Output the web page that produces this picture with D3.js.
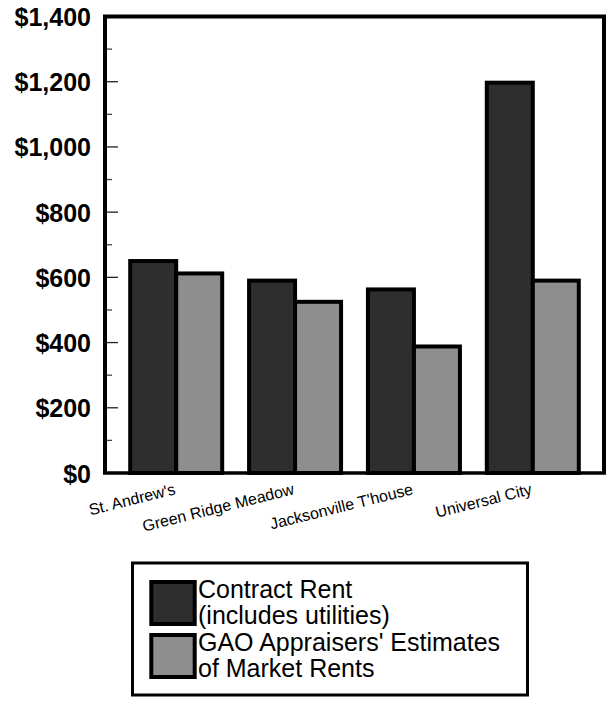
<!DOCTYPE html>
<html>
<head>
<meta charset="utf-8">
<script src="https://cdn.jsdelivr.net/npm/d3@7"></script>
<style>
  body { margin: 0; background: #fff; }
  svg { display: block; font-family: "Liberation Sans", Arial, sans-serif; }
</style>
</head>
<body>
<svg id="chart" width="607" height="703"></svg>
<script>
const categories = ["St. Andrew's", "Green Ridge Meadow", "Jacksonville T'house", "Universal City"];
const contractRent = [650, 590, 563, 1197];
const marketRent = [612, 525, 388, 590];
const seriesNames = ["Contract Rent\n(includes utilities)", "GAO Appraisers' Estimates\nof Market Rents"];
const yTickValues = [0, 200, 400, 600, 800, 1000, 1200, 1400];
const yMinorTicks = [100, 300, 500, 700, 900, 1100, 1300];
const colors = ["#2e2e2e", "#8e8e8e"];

const svg = d3.select("#chart");
const L = 105, R = 604, T = 16.5, B = 473;

const y = d3.scaleLinear().domain([0, 1400]).range([B, T]);
const x0 = d3.scaleBand().domain(categories).range([L, R]).paddingInner(0.226).paddingOuter(0.212);
const x1 = d3.scaleBand().domain([0, 1]).range([0, x0.bandwidth()]);

// minor ticks
svg.append("g").selectAll("line").data(yMinorTicks).join("line")
  .attr("x1", L).attr("x2", L + 7)
  .attr("y1", d => y(d)).attr("y2", d => y(d))
  .attr("stroke", "#444").attr("stroke-width", 1.3);
// major ticks
svg.append("g").selectAll("line").data(yTickValues.filter(v => v > 0 && v < 1400)).join("line")
  .attr("x1", L).attr("x2", L + 13)
  .attr("y1", d => y(d)).attr("y2", d => y(d))
  .attr("stroke", "#222").attr("stroke-width", 1.3);

// y labels
const fmt = d3.format("$,");
svg.append("g").selectAll("text").data(yTickValues).join("text")
  .attr("x", 91).attr("y", d => y(d) + 9.5)
  .attr("text-anchor", "end")
  .attr("font-weight", "bold").attr("font-size", 25)
  .text(d => fmt(d));

// bars
const series = [contractRent, marketRent];
const groups = svg.append("g").selectAll("g").data(categories).join("g")
  .attr("transform", d => `translate(${x0(d)},0)`);
groups.selectAll("rect").data((d, i) => series.map((s, k) => ({k, v: s[i]}))).join("rect")
  .attr("x", d => x1(d.k))
  .attr("width", x1.bandwidth())
  .attr("y", d => y(d.v))
  .attr("height", d => B - y(d.v))
  .attr("fill", d => colors[d.k])
  .attr("stroke", "#000").attr("stroke-width", 4);

// frame
svg.append("path")
  .attr("d", `M${L},${B} L${L},${T} L${R},${T} L${R},${B}`)
  .attr("fill", "none").attr("stroke", "#000").attr("stroke-width", 4)
  .attr("stroke-linejoin", "miter");
svg.append("line").attr("x1", L - 2).attr("x2", R + 2).attr("y1", B).attr("y2", B)
  .attr("stroke", "#000").attr("stroke-width", 3.5);

// x labels
svg.append("g").selectAll("text").data(categories).join("text")
  .attr("transform", d => `translate(${x0(d) + x0.bandwidth() / 2},${B + 21}) rotate(-14)`)
  .attr("text-anchor", "end")
  .attr("font-size", 16)
  .text(d => d);

// legend
const lg = svg.append("g");
lg.append("rect").attr("x", 132.5).attr("y", 563).attr("width", 395).attr("height", 132)
  .attr("fill", "#fff").attr("stroke", "#000").attr("stroke-width", 3);
const swY = [582, 635];
lg.selectAll("rect.sw").data(seriesNames).join("rect").attr("class", "sw")
  .attr("x", 151.3).attr("y", (d, i) => swY[i])
  .attr("width", 43.4).attr("height", 42)
  .attr("fill", (d, i) => colors[i])
  .attr("stroke", "#000").attr("stroke-width", 4);
const lineY = [[598, 624], [651, 677]];
seriesNames.forEach((name, i) => {
  name.split("\n").forEach((line, j) => {
    lg.append("text").attr("x", 198).attr("y", lineY[i][j])
      .attr("font-size", 25).text(line);
  });
});
</script>
</body>
</html>
